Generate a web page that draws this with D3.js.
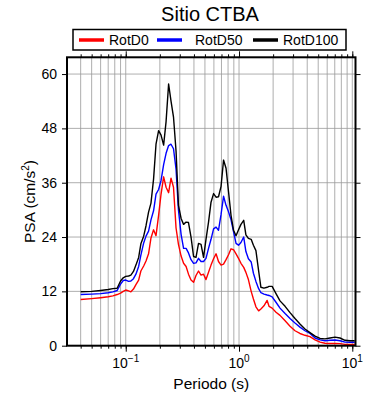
<!DOCTYPE html>
<html>
<head>
<meta charset="utf-8">
<script src="https://cdn.jsdelivr.net/npm/d3@7"></script>
<style>
  body { margin: 0; background: #fff; }
  svg text { font-family: "Liberation Sans", Arial, Helvetica, sans-serif; }
</style>
</head>
<body>
<svg id="chart" width="390" height="400"></svg>
<script>
// periods (s)
const periods = [0.04, 0.05, 0.06, 0.07, 0.077, 0.084, 0.09, 0.095, 0.1, 0.106, 0.111, 0.117, 0.123, 0.13,
  0.136, 0.144, 0.151, 0.159, 0.167, 0.176, 0.185, 0.195, 0.205, 0.216, 0.227, 0.239, 0.251, 0.264,
  0.278, 0.292, 0.308, 0.324, 0.341, 0.358, 0.377, 0.397, 0.417, 0.439, 0.462, 0.486, 0.511, 0.538,
  0.566, 0.596, 0.627, 0.659, 0.694, 0.73, 0.768, 0.808, 0.85, 0.894, 0.941, 0.99, 1.04, 1.1, 1.15,
  1.21, 1.28, 1.34, 1.41, 1.49, 1.56, 1.66, 1.77, 1.84, 1.96, 2.12, 2.3, 2.55, 2.82, 3.12, 3.45, 3.82,
  4.23, 4.69, 5.19, 5.74, 6.36, 7.04, 7.79, 8.62, 9.54, 10.5];

const rotD0 = [10.2, 10.4, 10.6, 10.8, 11.0, 11.3, 11.6, 12.0, 12.3, 12.1, 11.9, 12.5, 13.5, 14.5,
  16.5, 17.6, 18.7, 20.3, 23.8, 25.6, 24.3, 28.8, 33.5, 37.3, 35.0, 33.8, 37.0, 35.0,
  26.0, 22.4, 19.8, 18.2, 17.5, 15.8, 14.5, 14.0, 15.5, 16.5, 15.6, 15.8, 14.6, 16.2,
  17.8, 19.2, 20.3, 18.6, 17.8, 18.0, 19.0, 20.1, 21.4, 21.2, 20.3, 19.3, 18.2, 17.3, 16.2,
  14.6, 12.0, 10.3, 8.6, 7.7, 8.1, 8.8, 10.0, 8.7, 8.3, 7.4, 6.7, 5.5, 4.3, 3.3, 2.7, 2.3,
  2.0, 1.3, 0.8, 0.55, 0.5, 0.5, 0.45, 0.3, 0.3, 0.3];

const rotD50 = [11.3, 11.4, 11.5, 11.7, 11.9, 12.2, 13.6, 14.4, 14.5, 14.2, 14.3, 14.8, 15.8, 17.5,
  20.0, 22.7, 24.2, 25.3, 27.8, 29.8, 33.5, 34.5, 36.5, 40.0, 42.5, 44.2, 44.5, 43.5,
  39.0, 30.0, 24.6, 21.5, 21.5, 20.5, 19.0, 18.2, 18.3, 19.3, 18.6, 18.6, 19.3, 21.5,
  23.5, 25.8, 26.2, 25.5, 29.0, 33.0, 31.0, 29.6, 27.8, 25.2, 22.6, 22.2, 22.8, 24.0, 20.8,
  19.2, 18.5, 16.0, 14.2, 12.6, 11.7, 11.4, 11.2, 11.1, 10.8, 9.6, 8.3, 7.1, 6.0, 5.0, 4.1, 3.3,
  2.7, 1.7, 1.3, 1.1, 1.2, 1.25, 1.1, 0.8, 0.75, 0.75];

const rotD100 = [11.9, 12.0, 12.2, 12.4, 12.6, 12.7, 14.3, 15.0, 15.3, 15.4, 15.6, 16.4, 17.8, 19.5,
  22.5, 24.2, 26.5, 29.5, 31.5, 36.8, 44.5, 47.5, 46.5, 44.3, 49.5, 57.8, 54.0, 50.5,
  43.0, 31.0, 28.1, 26.8, 27.3, 27.2, 24.0, 19.7, 19.5, 22.6, 22.4, 19.5, 23.5, 27.3,
  31.7, 33.6, 32.8, 32.9, 35.2, 41.0, 39.2, 34.0, 28.8, 25.5, 24.3, 25.6, 26.8, 27.7, 24.5,
  23.7, 23.5, 22.2, 21.0, 16.5, 12.9, 12.7, 12.9, 13.1, 13.1, 11.5, 9.9, 8.7, 7.3, 6.0, 4.8, 3.7,
  2.9, 2.1, 1.6, 1.5, 1.7, 1.9, 1.7, 1.2, 1.1, 1.1];

const seriesNames = ["RotD0", "RotD50", "RotD100"];
const seriesColors = ["#ff0000", "#0000ff", "#000000"];
const yTicks = [0, 12, 24, 36, 48, 60];
const xMajor = [0.1, 1, 10];
const xMajorExp = ["\u22121", "0", "1"];

const margin = {left: 67, right: 34.5, top: 57.3, bottom: 54.3};
const W = 390, H = 400;

const svg = d3.select("#chart");

const x = d3.scaleLog().domain([0.0303, 10.67]).range([margin.left, W - margin.right]);
const y = d3.scaleLinear().domain([0, 63.7]).range([H - margin.bottom, margin.top]);

// minor tick values 1..9 per decade inside domain
const xMinor = [];
[0.01, 0.1, 1, 10].forEach(d => {
  for (let k = 1; k <= 9; k++) {
    const v = d * k;
    if (v >= x.domain()[0] && v <= x.domain()[1]) xMinor.push(v);
  }
});

// grid
svg.append("g")
  .selectAll("line")
  .data(xMinor)
  .enter().append("line")
  .attr("x1", d => x(d)).attr("x2", d => x(d))
  .attr("y1", y.range()[0]).attr("y2", y.range()[1])
  .attr("stroke", "#999").attr("stroke-width", 0.8);

svg.append("g")
  .selectAll("line")
  .data(yTicks.filter(d => d > 0))
  .enter().append("line")
  .attr("x1", x.range()[0]).attr("x2", x.range()[1])
  .attr("y1", d => y(d)).attr("y2", d => y(d))
  .attr("stroke", "#999").attr("stroke-width", 0.8);

// curves
const line = d3.line()
  .x((d, i) => x(periods[i]))
  .y(d => y(d));

[rotD0, rotD50, rotD100].forEach((s, i) => {
  svg.append("path")
    .datum(s)
    .attr("fill", "none")
    .attr("stroke", seriesColors[i])
    .attr("stroke-width", 1.4)
    .attr("stroke-linejoin", "round")
    .attr("d", line);
});

// axes (ticks only, labels done by hand)
const y0 = y.range()[0], y1 = y.range()[1];
const x0 = x.range()[0], x1 = x.range()[1];

function ticksOnly(g) {
  g.select(".domain").remove();
  g.selectAll("text").remove();
  g.selectAll("line").attr("stroke", "#000").attr("stroke-width", 1);
}

svg.append("g").attr("transform", `translate(0,${y0})`)
  .call(d3.axisBottom(x).tickValues(xMinor).tickSize(3)).call(ticksOnly);
svg.append("g").attr("transform", `translate(0,${y0})`)
  .call(d3.axisBottom(x).tickValues(xMajor).tickSize(6)).call(ticksOnly);
svg.append("g").attr("transform", `translate(0,${y1})`)
  .call(d3.axisTop(x).tickValues(xMinor).tickSize(3)).call(ticksOnly);
svg.append("g").attr("transform", `translate(0,${y1})`)
  .call(d3.axisTop(x).tickValues(xMajor).tickSize(6)).call(ticksOnly);
svg.append("g").attr("transform", `translate(${x0},0)`)
  .call(d3.axisLeft(y).tickValues(yTicks).tickSize(5)).call(ticksOnly);
svg.append("g").attr("transform", `translate(${x1},0)`)
  .call(d3.axisRight(y).tickValues(yTicks).tickSize(5)).call(ticksOnly);

// frame
svg.append("rect")
  .attr("x", x0).attr("y", y1)
  .attr("width", x1 - x0).attr("height", y0 - y1)
  .attr("fill", "none").attr("stroke", "#000").attr("stroke-width", 2);

// y tick labels
svg.append("g")
  .selectAll("text")
  .data(yTicks)
  .enter().append("text")
  .attr("x", x0 - 10)
  .attr("y", d => y(d))
  .attr("dy", "0.36em")
  .attr("text-anchor", "end")
  .attr("font-size", 14)
  .text(d => d);

// x tick labels with superscript
const xl = svg.append("g")
  .selectAll("text")
  .data(xMajor)
  .enter().append("text")
  .attr("x", d => x(d))
  .attr("y", y0 + 22)
  .attr("text-anchor", "middle")
  .attr("font-size", 14);
xl.append("tspan").text("10");
xl.append("tspan")
  .attr("dy", -6)
  .attr("font-size", 10)
  .text((d, i) => xMajorExp[i]);

// axis titles
svg.append("text")
  .attr("x", (x0 + x1) / 2)
  .attr("y", 389)
  .attr("text-anchor", "middle")
  .attr("font-size", 15.5)
  .text("Periodo (s)");

const yl = svg.append("text")
  .attr("transform", `translate(35,${(y0 + y1) / 2}) rotate(-90)`)
  .attr("text-anchor", "middle")
  .attr("font-size", 15.5);
yl.append("tspan").text("PSA (cm/s");
yl.append("tspan").attr("dy", -6).attr("font-size", 10).text("2");
yl.append("tspan").attr("dy", 6).text(")");

// title
svg.append("text")
  .attr("x", 210)
  .attr("y", 21)
  .attr("text-anchor", "middle")
  .attr("font-size", 20)
  .text("Sitio CTBA");

// legend
const legend = svg.append("g");
legend.append("rect")
  .attr("x", 73).attr("y", 29.5)
  .attr("width", 273).attr("height", 20.5)
  .attr("fill", "#fff").attr("stroke", "#000").attr("stroke-width", 1.5);

const legX = [79, 157, 253];
const items = legend.selectAll("g.item")
  .data(seriesNames)
  .enter().append("g")
  .attr("transform", (d, i) => `translate(${legX[i]},40)`);
items.append("line")
  .attr("x1", 0).attr("x2", 25)
  .attr("stroke", (d, i) => seriesColors[i])
  .attr("stroke-width", 3.5);
items.append("text")
  .attr("x", (d, i) => i === 1 ? 38 : 30)
  .attr("dy", "0.36em")
  .attr("font-size", 14)
  .text(d => d);
</script>
</body>
</html>
